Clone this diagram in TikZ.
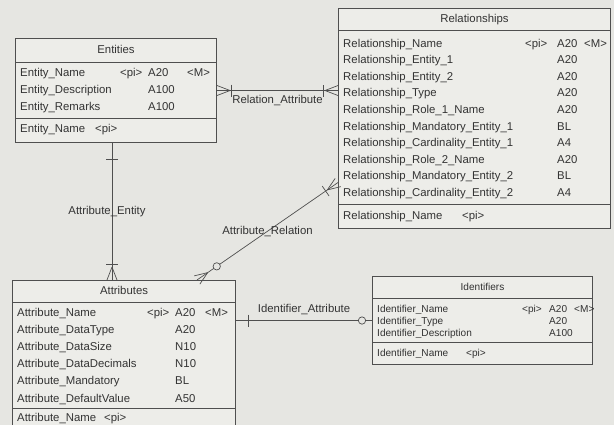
\documentclass[tikz,border=0pt]{standalone}
\usepackage{fontspec}
\setmainfont{Liberation Sans}
\usetikzlibrary{calc}
\definecolor{erpaper}{HTML}{E6E6E2}
\definecolor{erbox}  {HTML}{EDEDE9}
\definecolor{erink}  {HTML}{333333}
\definecolor{erline} {HTML}{4F4F4F}
\newcommand{\crowfoot}[2]{%
  \draw[erlink] ($(#1)!3.9mm!(#2)$) -- ($(#1)!1.5mm!90:(#2)$)
                ($(#1)!3.9mm!(#2)$) -- ($(#1)!1.5mm!-90:(#2)$);}
\newcommand{\barmark}[3]{%
  \draw[erlink] ($(#1)!#3!(#2)!1.8mm!90:(#2)$) -- ($(#1)!#3!(#2)!1.8mm!-90:(#2)$);}
\newcommand{\ringmark}[3]{%
  \draw[erlink, fill=erpaper] ($(#1)!#3!(#2)$) circle (1.1mm);}

\begin{document}
\begin{tikzpicture}[x=0.3mm, y=-0.3mm,
    every node/.style={font=\fontsize{9.7}{11}\selectfont, text=erink, inner sep=0pt},
    tablebox/.style={draw=erline, fill=erbox, line width=0.9pt, anchor=north west},
    field/.style={anchor=mid west},
    heading/.style={anchor=mid},
    seprule/.style={draw=erline, line width=0.8pt},
    erlink/.style={draw=erline, line width=0.6pt},
    linklabel/.style={anchor=mid},
    identfont/.style={font=\fontsize{8.6}{10}\selectfont}]
      \clip (0,0) rectangle (614,425);
      \fill[erpaper] (0,0) rectangle (614,425);
      % Entities
      \node[tablebox, minimum width=201*0.3mm, minimum height=104*0.3mm] (ent) at (15,38) {};
      \node[heading] (enttitle) at ($(ent.north)+(0,12)$) {Entities};
      \draw[seprule] ($(ent.north west)+(0,24)$) -- ($(ent.north east)+(0,24)$);
      \draw[seprule] ($(ent.north west)+(0,80)$) -- ($(ent.north east)+(0,80)$);
      \foreach \fname/\ftype [count=\i] in {Entity\_Name/A20, Entity\_Description/A100,
                                            Entity\_Remarks/A100} {
        \node[field] (entf\i) at (20,{73+17*(\i-1)}) {\fname};
        \node[field] (entt\i) at (148,{73+17*(\i-1)}) {\ftype};
      }
      \node[field] (entpi) at (120,73) {<pi>};
      \node[field] (entm) at (187,73) {<M>};
      \node[field] (entkey) at (20,129) {Entity\_Name};
      \node[field] (entkeypi) at (95,129) {<pi>};
      % Relationships
      \node[tablebox, minimum width=272*0.3mm, minimum height=220*0.3mm] (rel) at (338,8) {};
      \node[heading] (reltitle) at ($(rel.north)+(0,11)$) {Relationships};
      \draw[seprule] ($(rel.north west)+(0,22)$) -- ($(rel.north east)+(0,22)$);
      \draw[seprule] ($(rel.north west)+(0,196)$) -- ($(rel.north east)+(0,196)$);
      \foreach \fname/\ftype [count=\i] in {Relationship\_Name/A20, Relationship\_Entity\_1/A20,
          Relationship\_Entity\_2/A20, Relationship\_Type/A20, Relationship\_Role\_1\_Name/A20,
          Relationship\_Mandatory\_Entity\_1/BL, Relationship\_Cardinality\_Entity\_1/A4,
          Relationship\_Role\_2\_Name/A20, Relationship\_Mandatory\_Entity\_2/BL,
          Relationship\_Cardinality\_Entity\_2/A4} {
        \node[field] (relf\i) at (343,{44+16.6*(\i-1)}) {\fname};
        \node[field] (relt\i) at (557,{44+16.6*(\i-1)}) {\ftype};
      }
      \node[field] (relpi) at (525,44) {<pi>};
      \node[field] (relm) at (584,44) {<M>};
      \node[field] (relkey) at (343,216) {Relationship\_Name};
      \node[field] (relkeypi) at (462,216) {<pi>};
      % Attributes
      \node[tablebox, minimum width=223*0.3mm, minimum height=160*0.3mm] (attr) at (12,280) {};
      \node[heading] (attrtitle) at ($(attr.north)+(0,11)$) {Attributes};
      \draw[seprule] ($(attr.north west)+(0,22)$) -- ($(attr.north east)+(0,22)$);
      \draw[seprule] ($(attr.north west)+(0,128)$) -- ($(attr.north east)+(0,128)$);
      \foreach \fname/\ftype [count=\i] in {Attribute\_Name/A20, Attribute\_DataType/A20,
          Attribute\_DataSize/N10, Attribute\_DataDecimals/N10, Attribute\_Mandatory/BL,
          Attribute\_DefaultValue/A50} {
        \node[field] (attrf\i) at (17,{313+17.2*(\i-1)}) {\fname};
        \node[field] (attrt\i) at (175,{313+17.2*(\i-1)}) {\ftype};
      }
      \node[field] (attrpi) at (147,313) {<pi>};
      \node[field] (attrm) at (205,313) {<M>};
      \node[field] (attrkey) at (17,418) {Attribute\_Name};
      \node[field] (attrkeypi) at (104,418) {<pi>};
      % Identifiers
      \node[tablebox, minimum width=220*0.3mm, minimum height=88*0.3mm] (ident) at (372,276) {};
      \node[heading, identfont] (identtitle) at ($(ident.north)+(0,11)$) {Identifiers};
      \draw[seprule] ($(ident.north west)+(0,22)$) -- ($(ident.north east)+(0,22)$);
      \draw[seprule] ($(ident.north west)+(0,66)$) -- ($(ident.north east)+(0,66)$);
      \foreach \fname/\ftype [count=\i] in {Identifier\_Name/A20, Identifier\_Type/A20,
          Identifier\_Description/A100} {
        \node[field, identfont] (identf\i) at (377,{309+12*(\i-1)}) {\fname};
        \node[field, identfont] (identt\i) at (549,{309+12*(\i-1)}) {\ftype};
      }
      \node[field, identfont] (identpi) at (522,309) {<pi>};
      \node[field, identfont] (identm) at (574,309) {<M>};
      \node[field, identfont] (identkey) at (377,353) {Identifier\_Name};
      \node[field, identfont] (identkeypi) at (466,353) {<pi>};
      % Relation_Attribute
      \coordinate (raR) at (ent.east -| rel.west);
      \draw[erlink] (ent.east) -- (raR);
      \crowfoot{ent.east}{raR}
      \barmark{ent.east}{raR}{4.2mm}
      \crowfoot{raR}{ent.east}
      \barmark{raR}{ent.east}{4.5mm}
      \node[linklabel] (ralbl) at ($(ent.east)!0.5!(raR)+(0,10)$) {Relation\_Attribute};
      % Attribute_Entity
      \coordinate (aeT) at ($(ent.south west)+(97,0)$);
      \coordinate (aeB) at (aeT |- attr.north);
      \draw[erlink] (aeT) -- (aeB);
      \barmark{aeT}{aeB}{4.8mm}
      \crowfoot{aeB}{aeT}
      \barmark{aeB}{aeT}{4.8mm}
      \node[linklabel] (aelbl) at ($(aeT)!0.5!(aeB)+(-5,0)$) {Attribute\_Entity};
      % Attribute_Relation
      \coordinate (arA) at ($(attr.north west)+(185,0)$);
      \coordinate (arR) at ($(rel.west)+(0,64)$);
      \draw[erlink] (arA) -- (arR);
      \crowfoot{arA}{arR}
      \ringmark{arA}{arR}{7.2mm}
      \crowfoot{arR}{arA}
      \barmark{arR}{arA}{4.5mm}
      \node[linklabel] (arlbl) at ($(arA)!0.5!(arR)$) {Attribute\_Relation};
      % Identifier_Attribute
      \coordinate (iaA) at (ident.west -| attr.east);
      \draw[erlink] (iaA) -- (ident.west);
      \barmark{iaA}{ident.west}{3.6mm}
      \ringmark{ident.west}{iaA}{3mm}
      \node[linklabel] (ialbl) at ($(iaA)!0.5!(ident.west)+(0,-11)$) {Identifier\_Attribute};
    \end{tikzpicture}
\end{document}
